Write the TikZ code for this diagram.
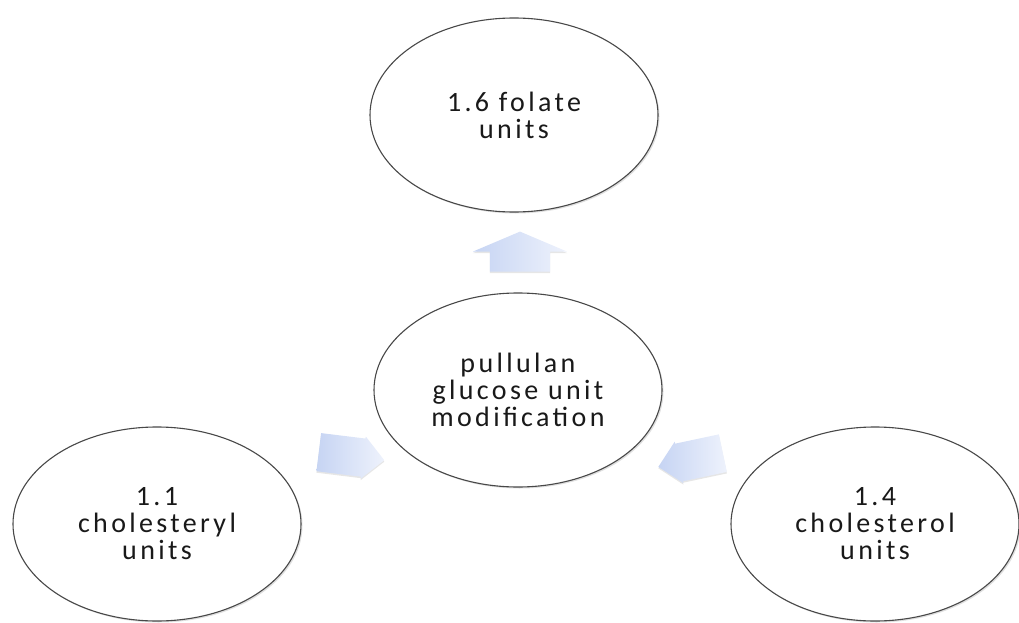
\documentclass[tikz,border=0pt]{standalone}
\usepackage{fontspec}
\setmainfont{Carlito}[LetterSpace=12]
\usetikzlibrary{shapes.geometric,shapes.arrows,shadows}
\definecolor{rimgray}{HTML}{484848}
\definecolor{arrowlight}{HTML}{EEF2FC}
\definecolor{arrowdark}{HTML}{C6D4F3}

\begin{document}
\begin{tikzpicture}[x=1pt,y=-1pt,
  unit/.style={draw=rimgray,line width=1.1pt,ellipse,fill=white,minimum width=288pt,minimum height=194pt,inner sep=0pt,align=center,font=\fontsize{28}{27}\selectfont,text=black!90,drop shadow={opacity=0.25,shadow xshift=1.5pt,shadow yshift=-1.5pt}},
  blockarrow/.style={single arrow,draw=none,inner xsep=0pt,left color=arrowdark,right color=arrowlight,drop shadow={opacity=0.2,shadow xshift=0pt,shadow yshift=-1.5pt}},
  uparrow/.style={blockarrow,minimum height=40pt,minimum width=94pt,single arrow head extend=17pt,single arrow tip angle=134,inner ysep=30pt},
  sidearrow/.style={blockarrow,minimum height=66pt,minimum width=42pt,single arrow head extend=2pt,single arrow tip angle=90,inner ysep=19pt}]
\useasboundingbox (0,0) rectangle (1019,623);
\node[unit] (top) at (514,115) {1.6 folate\\units};
\node[unit] (mid) at (518,390) {pullulan\\glucose unit\\modification};
\node[unit] (left) at (157,524) {1.1\\cholesteryl\\units};
\node[unit] (right) at (875,524) {1.4\\cholesterol\\units};
\node[uparrow,rotate=90] (uparr) at (520,258) {};
\node[sidearrow,rotate=-7] (leftarr) at (342,455) {};
\node[sidearrow,rotate=192] (rightarr) at (700,458) {};
\end{tikzpicture}
\end{document}
